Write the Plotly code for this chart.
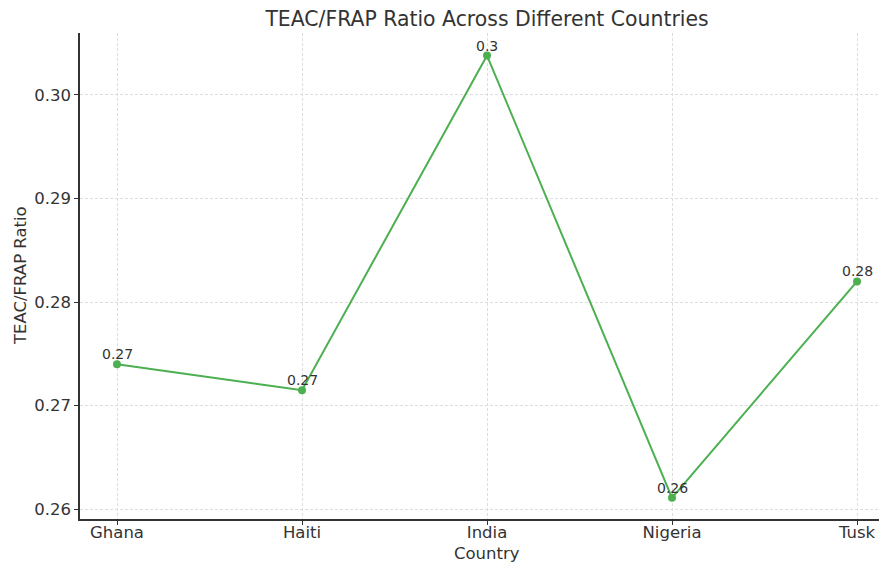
import plotly.graph_objects as go

countries = ["Ghana", "Haiti", "India", "Nigeria", "Tusk"]
ratios = [0.2740, 0.2715, 0.3038, 0.2611, 0.2820]
y_ticks = [0.26, 0.27, 0.28, 0.29, 0.30]
y_tick_labels = ["0.26", "0.27", "0.28", "0.29", "0.30"]

labels = [f"{round(v, 2)}" for v in ratios]
xs = list(range(len(countries)))

FONT = "DejaVu Sans"
TXT = "#333333"
GREEN = "#4CAF50"

# page body has an 8px margin; size figure so the plot lands where the reference has it
W, H = 879, 560
L, T, R, B = 72, 25, 0, 49
PW, PH = W - L - R, H - T - B

fig = go.Figure()
fig.add_trace(go.Scatter(
    x=xs, y=ratios, mode="lines+markers",
    line=dict(color=GREEN, width=2),
    marker=dict(color=GREEN, size=8),
    hoverinfo="skip", showlegend=False,
))
for x, y, t in zip(xs, ratios, labels):
    fig.add_annotation(x=x, y=y, text=t, showarrow=False, xanchor="center",
                       yanchor="bottom", yshift=0,
                       font=dict(family=FONT, size=14, color=TXT))

fig.add_annotation(x=(479 - L) / PW, y=(PH + T - 545) / PH, xref="paper", yref="paper",
                   text="Country", showarrow=False, xanchor="center", yanchor="middle",
                   font=dict(family=FONT, size=16.5, color=TXT))
fig.add_annotation(x=(12 - L) / PW, y=0.5, xref="paper", yref="paper",
                   text="TEAC/FRAP Ratio", showarrow=False, textangle=-90,
                   xanchor="center", yanchor="middle",
                   font=dict(family=FONT, size=16.5, color=TXT))

fig.update_layout(
    width=W, height=H,
    margin=dict(l=L, r=R, t=T, b=B, autoexpand=False),
    plot_bgcolor="white", paper_bgcolor="white",
    font=dict(family=FONT, color=TXT),
    title=dict(text="TEAC/FRAP Ratio Across Different Countries",
               x=479 / W, xanchor="center", y=1 - 10.5 / H, yanchor="middle",
               font=dict(family=FONT, size=20.4, color=TXT)),
    xaxis=dict(
        tickmode="array", tickvals=xs, ticktext=countries,
        range=[-0.2, 4.162], automargin=False,
        showline=True, linecolor="#333333", linewidth=1.5,
        ticks="outside", ticklen=4, tickcolor="#333333",
        ticklabelstandoff=-7,
        showgrid=True, gridcolor="#dddddd", griddash="3px,2px", gridwidth=1,
        zeroline=False, tickfont=dict(family=FONT, size=16.5, color=TXT),
    ),
    yaxis=dict(
        tickmode="array", tickvals=y_ticks, ticktext=y_tick_labels,
        range=[0.25906, 0.30598], automargin=False,
        showline=True, linecolor="#333333", linewidth=1.5,
        ticks="outside", ticklen=4, tickcolor="#333333",
        showgrid=True, gridcolor="#dddddd", griddash="3px,2px", gridwidth=1,
        zeroline=False, tickfont=dict(family=FONT, size=16.5, color=TXT),
    ),
)
fig.write_html("out.html")
